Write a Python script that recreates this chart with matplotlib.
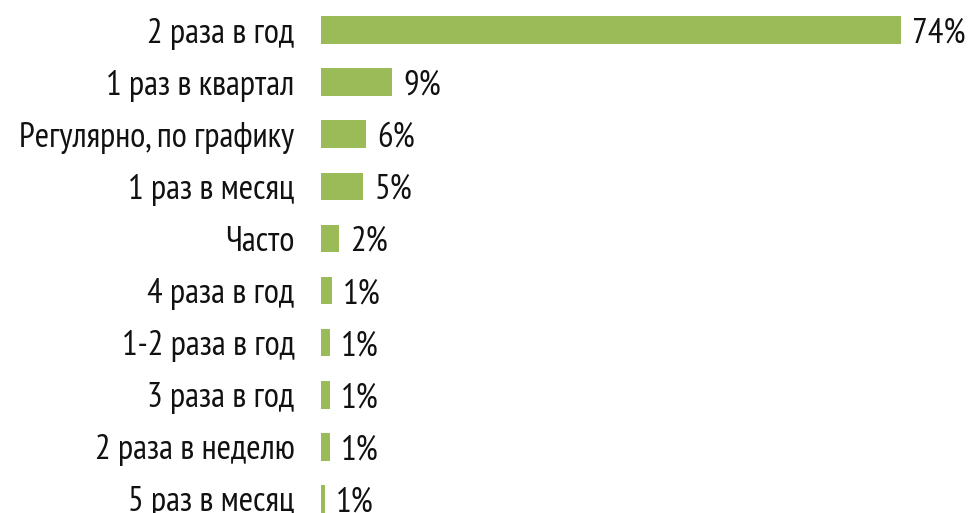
import matplotlib.pyplot as plt

# data
categories = ["2 раза в год", "1 раз в квартал", "Регулярно, по графику",
              "1 раз в месяц", "Часто", "4 раза в год", "1-2 раза в год",
              "3 раза в год", "2 раза в неделю", "5 раз в месяц"]
values = [74, 9.05, 5.7, 5.4, 2.3, 1.4, 1.15, 1.15, 1.1, 0.5]
labels = ["74%", "9%", "6%", "5%", "2%", "1%", "1%", "1%", "1%", "1%"]

plt.rcParams["font.family"] = ["PT Sans Narrow", "Roboto Condensed", "Roboto", "DejaVu Sans"]

fig = plt.figure(figsize=(9.71, 5.13), dpi=100)
W, H = 971, 513
left, right = 321, 921
top, bottom = 4, 525
ax = fig.add_axes([left / W, (H - bottom) / H, (right - left) / W, (bottom - top) / H])

pos = list(range(len(categories)))
ax.barh(pos, values, height=0.53, color="#9BBB59")
ax.set_xlim(0, (right - left) / 7.84)
ax.set_ylim(len(categories) - 0.5, -0.5)

ax.set_yticks(pos)
ax.set_yticklabels(categories, fontsize=25, color="#111111")
ax.tick_params(axis="y", length=0, pad=19)
ax.set_xticks([])
for s in ax.spines.values():
    s.set_visible(False)

for p, v, t in zip(pos, values, labels):
    ax.annotate(t, (v, p), xytext=(8, 0), textcoords="offset points",
                va="center_baseline", ha="left", fontsize=25, color="#111111",
                annotation_clip=False)

fig.savefig("out.png", dpi=100)
